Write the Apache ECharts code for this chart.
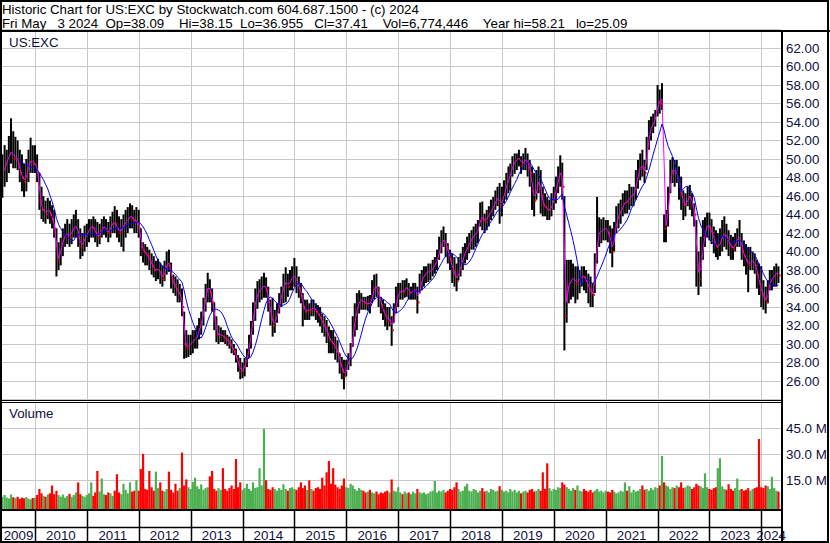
<!DOCTYPE html>
<html><head><meta charset="utf-8">
<script src="https://cdn.jsdelivr.net/npm/echarts/dist/echarts.min.js"></script>
<style>html,body{margin:0;padding:0;background:#fff}#c{width:830px;height:543px}</style>
</head><body><div id="c"></div>
<script>
// Half-monthly bars (1st and 16th of each month), first bar 16 May 2009, last 1 May 2024
const firstBar = [2009, 4, 16];

const high = [
// 2009
50.5,51.5,51.0,52.5,54.4,53.0,52.4,52.0,51.0,50.5,49.5,50.0,51.0,52.3,51.5,
// 2010
51.5,50.5,48.5,47.0,46.0,45.5,45.8,45.5,45.0,44.5,42.5,41.0,41.5,42.5,43.0,43.5,43.0,43.5,44.0,44.5,43.5,42.5,42.0,42.8,
// 2011
43.0,43.5,43.5,43.8,43.5,43.2,43.0,43.5,43.8,43.5,43.2,43.8,44.3,44.9,44.5,43.8,43.5,44.0,44.5,44.8,45.2,45.0,44.5,44.8,
// 2012
44.5,42.5,41.0,40.8,40.5,40.2,39.8,39.5,39.0,39.2,38.8,38.5,39.0,40.0,40.2,38.8,37.5,37.3,37.0,36.5,36.0,33.5,31.5,31.0,
// 2013
31.0,31.5,31.5,32.0,32.8,33.5,35.0,36.5,37.7,37.0,36.0,34.5,33.0,32.0,31.8,31.5,31.5,31.0,30.8,30.5,30.0,29.5,28.8,28.5,
// 2014
28.0,28.5,29.5,31.0,32.5,34.5,36.0,36.8,37.0,37.3,37.7,37.2,36.2,34.8,35.0,33.7,34.4,35.5,36.2,37.6,38.3,37.6,38.0,38.4,
// 2015
39.3,38.4,37.3,36.6,35.5,34.8,34.8,34.4,34.8,34.8,34.4,34.2,34.0,33.3,33.0,32.6,31.9,31.5,31.5,30.8,30.4,29.0,28.6,28.3,
// 2016
28.3,29.0,30.1,33.0,34.4,35.5,35.8,35.5,35.1,35.1,35.2,35.3,36.9,37.5,37.6,36.2,35.1,34.8,34.4,34.0,34.0,33.0,34.4,36.2,
// 2017
36.6,36.6,36.9,36.9,37.1,36.6,36.2,36.6,36.6,36.2,37.6,38.0,38.4,38.4,38.7,38.7,39.1,39.4,40.2,41.6,42.3,42.7,42.0,40.9,
// 2018
40.2,39.8,39.4,38.7,39.4,39.8,40.5,40.9,41.6,42.0,42.3,42.7,43.0,43.4,45.3,45.4,44.1,44.5,44.9,45.6,45.9,46.6,47.0,47.4,
// 2019
47.0,47.7,48.5,49.2,49.5,50.3,50.6,50.6,51.0,50.3,50.6,51.2,50.6,49.9,49.2,48.5,48.8,49.2,48.8,47.0,46.3,45.9,45.6,46.3,
// 2020
47.0,48.1,49.2,50.4,49.6,46.0,39.1,39.1,39.1,38.7,38.4,38.4,38.0,38.4,38.4,38.0,37.6,37.3,36.6,39.8,45.9,43.7,43.5,43.7,
// 2021
43.4,43.4,42.8,42.5,43.2,44.9,45.2,45.6,46.3,46.6,46.6,47.3,47.0,47.0,48.8,49.9,50.6,51.0,49.9,52.4,54.2,54.6,54.9,55.3,
// 2022
58.0,57.5,58.2,44.0,44.5,47.0,49.9,50.2,49.9,49.9,49.2,48.1,46.6,46.3,47.0,47.2,46.3,45.2,43.4,40.0,41.6,43.4,43.7,44.2,
// 2023
44.2,43.5,42.7,42.3,42.0,42.5,43.4,43.8,43.0,42.3,41.8,41.6,42.0,42.5,43.4,42.0,41.2,40.8,40.5,40.5,40.0,39.8,39.1,38.7,
// 2024
38.4,36.9,36.2,36.9,38.0,38.0,38.4,38.7,38.4
];

const low = [
// 2009
45.8,47.0,47.5,48.5,49.5,49.0,49.0,48.8,47.5,46.5,45.9,46.5,47.5,48.5,48.5,
// 2010
48.5,47.5,44.5,43.5,43.2,43.0,43.5,43.0,42.5,41.5,37.3,38.0,38.5,39.5,40.5,40.8,40.5,40.8,41.5,41.5,40.5,39.2,39.5,40.0,
// 2011
40.5,41.0,41.5,41.5,41.0,40.5,40.8,41.5,41.8,41.5,41.0,41.5,42.0,42.0,41.5,41.0,40.5,40.0,41.5,42.0,42.5,42.5,42.0,42.0,
// 2012
41.5,39.5,38.8,38.5,38.5,38.0,37.5,37.2,36.8,37.0,36.5,36.2,36.8,37.5,37.8,36.0,35.5,35.2,34.5,34.5,33.0,28.4,28.5,28.6,
// 2013
28.8,29.0,29.5,29.5,30.5,31.0,32.0,33.5,34.5,34.5,33.5,31.5,30.2,30.0,30.2,30.2,30.0,29.8,29.5,29.0,28.8,28.0,27.0,26.2,
// 2014
26.3,26.5,27.5,28.5,29.5,31.0,32.5,33.8,34.5,34.8,35.0,35.0,33.5,32.0,30.8,31.2,32.3,33.3,34.0,34.4,34.5,35.1,35.8,35.8,
// 2015
36.2,35.5,35.0,34.4,31.9,32.6,32.6,32.6,33.0,33.0,32.6,32.3,31.9,31.2,30.8,30.1,29.0,29.0,29.0,28.3,28.0,26.8,26.2,25.1,
// 2016
26.5,27.2,27.6,29.7,30.8,31.5,33.3,33.7,33.7,33.7,33.6,33.3,34.4,34.8,35.1,34.0,33.3,32.6,31.9,31.5,31.9,29.8,32.3,33.3,
// 2017
34.0,34.8,34.8,35.0,35.1,34.8,34.8,34.8,34.8,33.3,35.5,35.8,36.2,36.6,36.7,36.9,37.3,37.6,38.0,39.1,39.8,40.5,39.4,38.7,
// 2018
38.0,36.6,36.2,35.7,36.9,37.3,38.0,38.7,39.1,39.8,40.2,40.2,40.5,40.9,42.7,42.3,42.0,42.3,42.7,43.4,43.8,44.5,44.9,43.0,
// 2019
43.8,45.2,45.6,46.3,46.6,48.1,48.4,48.8,49.2,48.4,48.8,48.8,48.1,47.0,44.5,43.8,45.6,46.3,44.1,43.8,43.8,43.4,43.4,43.8,
// 2020
44.5,45.2,46.3,47.0,45.6,29.3,32.3,34.4,34.8,35.1,34.4,34.8,35.5,36.2,35.8,35.5,34.4,34.0,34.0,35.5,38.7,40.5,40.9,41.2,
// 2021
41.2,41.0,39.8,38.3,40.0,42.0,42.5,43.0,43.8,44.1,44.1,44.5,44.9,44.9,45.6,46.8,47.7,48.1,47.4,48.8,51.0,52.0,52.8,53.5,
// 2022
54.6,54.9,55.3,41.0,41.0,42.7,46.3,47.4,47.0,47.4,45.6,44.5,43.4,43.8,44.9,44.5,43.8,42.7,36.2,35.3,36.2,39.1,40.5,41.5,
// 2023
41.2,40.8,39.8,39.4,39.1,39.5,40.0,40.5,40.2,39.5,39.1,39.1,40.0,40.5,40.5,39.1,38.4,37.5,35.6,38.0,38.0,37.6,36.0,35.3,
// 2024
34.0,33.7,33.3,34.4,35.8,35.8,36.2,36.2,36.6
];

const close = [
// 2009
48.0,49.5,49.8,50.5,51.0,50.0,50.5,49.5,48.5,48.0,47.5,48.5,49.5,50.0,49.5,
// 2010
49.5,48.5,45.5,44.5,44.5,44.0,44.8,44.0,43.5,42.5,39.0,39.5,40.5,41.5,41.8,42.0,41.5,42.5,42.5,43.0,41.5,40.5,41.0,41.5,
// 2011
42.0,42.5,42.8,42.5,42.0,41.5,42.0,42.5,42.8,42.2,42.0,42.8,43.2,43.0,42.5,42.0,42.5,43.0,43.2,43.5,44.0,43.5,43.2,43.5,
// 2012
42.5,40.5,40.0,39.8,39.5,39.0,38.5,38.0,38.0,38.2,37.5,37.0,38.0,39.0,38.5,37.0,36.5,36.0,35.5,35.5,34.0,30.0,29.5,30.0,
// 2013
30.0,30.5,30.5,31.0,31.8,32.5,34.0,35.5,36.5,35.5,34.5,32.5,31.0,31.0,31.0,30.8,30.5,30.3,30.0,29.5,29.2,28.5,27.8,27.0,
// 2014
27.2,27.8,28.8,30.0,31.5,33.5,35.0,35.5,36.0,36.0,36.5,35.8,34.5,33.0,32.0,32.5,33.5,34.5,35.5,36.5,36.8,36.2,37.0,37.2,
// 2015
37.5,36.5,36.0,35.2,34.0,33.5,33.8,33.5,34.0,33.8,33.5,33.2,32.8,32.2,31.8,31.2,30.5,30.2,30.0,29.5,29.0,27.8,27.2,26.5,
// 2016
27.5,28.3,29.2,31.5,33.0,34.0,34.8,34.8,34.5,34.3,34.5,34.2,35.5,36.5,36.0,35.0,34.2,33.5,33.0,32.5,32.8,31.5,33.0,35.0,
// 2017
35.5,35.8,35.6,36.0,36.2,35.5,35.5,35.8,36.0,34.5,36.5,37.0,37.5,37.8,37.8,38.0,38.2,38.8,39.0,40.5,41.0,41.5,40.5,39.8,
// 2018
39.0,38.0,37.5,36.8,38.0,38.5,39.5,40.0,40.5,41.0,41.5,41.8,42.0,42.3,44.0,43.5,43.2,43.8,44.0,44.5,45.0,45.5,46.0,45.0,
// 2019
45.5,46.5,47.3,48.0,48.5,49.5,49.8,50.0,50.2,49.3,49.8,50.0,49.5,48.5,46.5,45.5,47.0,48.0,46.0,45.0,44.8,44.5,44.5,45.0,
// 2020
46.0,47.0,48.0,49.0,47.0,33.0,36.0,36.5,37.0,37.2,36.5,37.0,37.0,37.5,37.2,36.8,36.0,35.5,35.3,38.5,42.0,42.0,42.3,42.5,
// 2021
42.5,42.0,41.0,40.0,42.0,43.5,44.0,44.5,45.0,45.5,45.3,46.0,46.0,46.2,47.5,48.5,49.5,49.0,48.5,51.0,53.0,53.5,54.0,54.5,
// 2022
56.5,56.0,57.0,42.5,43.0,45.5,48.5,49.0,48.5,48.5,47.0,46.0,45.0,45.0,46.0,46.0,45.0,44.0,38.5,37.0,39.0,41.0,42.5,43.0,
// 2023
42.5,42.0,41.0,40.5,40.5,41.0,41.8,42.0,41.5,40.8,40.5,40.2,41.0,41.5,41.5,40.0,39.5,39.0,38.5,39.0,39.0,38.5,37.5,36.5,
// 2024
35.5,35.0,34.5,35.8,37.0,37.0,37.5,37.8,37.41
];

// volume, millions of shares
const volume = [
// 2009
5.5,6.5,5.0,4.5,6.8,5.2,4.8,5.5,4.2,5.0,4.6,5.3,4.4,4.0,4.8,
// 2010
5.0,6.5,10.0,7.5,6.0,5.5,6.8,7.5,12.0,7.0,9.0,6.5,5.5,6.8,5.0,6.0,7.2,5.5,6.5,8.0,13.8,7.0,6.0,5.5,
// 2011
6.5,7.5,13.8,6.0,8.0,20.4,8.5,16.0,7.0,6.5,8.0,7.5,6.0,9.0,18.5,8.0,7.0,13.0,9.5,7.5,13.8,8.5,9.0,15.0,
// 2012
9.0,21.5,30.2,10.0,9.5,20.4,11.0,9.0,20.0,10.5,13.8,9.0,8.5,10.0,20.0,9.5,8.0,13.0,9.0,10.5,31.0,12.0,15.5,11.0,
// 2013
10.0,14.0,16.5,11.5,10.0,12.7,9.5,10.5,11.0,17.3,20.4,10.0,9.0,10.5,9.5,22.0,10.0,9.0,10.5,12.0,10.0,27.3,11.0,13.8,
// 2014
9.5,10.5,13.0,10.0,9.0,13.8,10.5,11.0,22.0,12.0,44.6,15.0,10.0,9.5,11.0,10.0,9.0,10.5,9.5,12.7,10.0,9.0,10.5,11.0,
// 2015
10.0,9.5,11.0,13.8,10.5,12.0,9.5,15.0,10.0,9.0,10.5,11.0,10.0,16.5,12.0,19.6,26.1,13.0,22.0,12.5,11.0,10.0,12.0,16.0,
// 2016
11.0,10.5,13.0,12.0,10.0,9.0,10.5,9.5,9.0,8.0,8.5,9.5,8.0,7.5,8.5,7.0,8.0,7.5,8.5,9.0,8.0,15.5,9.0,8.5,
// 2017
11.0,8.0,7.0,8.5,7.5,8.0,7.0,8.5,7.5,10.0,8.0,7.5,8.0,7.0,7.5,8.5,9.0,14.6,8.0,9.0,8.5,9.5,8.0,9.0,
// 2018
10.0,9.5,11.0,13.8,10.0,8.5,9.0,11.5,13.0,9.0,8.5,10.0,9.5,8.0,9.0,10.5,8.5,9.0,8.0,10.0,9.5,8.5,9.0,11.6,
// 2019
9.5,8.5,9.0,8.0,10.0,8.5,9.5,8.0,9.0,7.5,8.5,9.0,8.0,9.5,10.0,8.5,9.0,10.0,9.0,19.6,10.0,24.8,10.5,9.0,
// 2020
10.0,9.5,11.0,10.5,13.8,12.5,11.0,10.0,9.0,10.5,9.5,12.0,9.0,8.5,10.0,9.0,8.5,9.5,8.0,9.0,10.0,8.5,9.0,8.0,
// 2021
9.0,8.5,8.0,9.5,8.5,7.5,8.0,9.0,8.5,13.8,9.0,11.6,8.0,9.5,8.5,9.0,10.0,12.0,9.5,10.0,9.0,10.5,9.5,11.0,
// 2022
10.5,12.0,29.0,13.8,12.0,11.5,10.0,11.0,10.5,12.0,11.0,13.8,10.5,11.0,12.0,11.5,10.0,11.0,13.0,12.0,11.5,10.5,19.0,11.0,
// 2023
10.0,9.5,10.5,11.0,22.0,27.7,11.5,10.0,9.5,12.7,10.0,9.0,10.5,16.0,9.5,10.0,9.0,9.5,10.5,9.0,10.0,10.5,11.0,38.8,
// 2024
11.0,10.5,12.0,11.6,10.0,17.0,10.5,9.0,8.5
];

const yearLabels = [2009,2010,2011,2012,2013,2014,2015,2016,2017,2018,2019,2020,2021,2022,2023,2024];
const priceTicks = {min: 24, max: 64, step: 2};
const volumeTicks = {min: 0, max: 60, step: 15};
const maShortLen = 2;   // ~20 trading days
const maLongLen = 9;    // ~100 trading days

const headerLine1 = 'Historic Chart for US:EXC by Stockwatch.com 604.687.1500 - (c) 2024';
const headerFields = [['Fri May', 3], ['3 2024', 2], ['Op=38.09', 4], ['Hi=38.15', 2], ['Lo=36.955', 3],
                      ['Cl=37.41', 4], ['Vol=6,774,446', 4], ['Year hi=58.21', 3], ['lo=25.09', 0]];

// ---------- build ----------
const n = Math.min(high.length, low.length, close.length, volume.length);
const barDates = [];
{
  let y = firstBar[0], m = firstBar[1], d = firstBar[2];
  for (let i = 0; i < n; i++) {
    barDates.push(Date.UTC(y, m, d));
    if (d === 1) d = 16; else { d = 1; m++; if (m === 12) { m = 0; y++; } }
  }
}
function movingAverage(vals, len) {
  const out = [];
  for (let i = len - 1; i < n; i++) {
    let s = 0;
    for (let j = i - len + 1; j <= i; j++) s += vals[j];
    out.push([barDates[i], +(s / len).toFixed(3)]);
  }
  return out;
}
const PX_PER_YEAR = 51.88, YEAR_MS = 365.2425 * 86400000;
const T2010 = Date.UTC(2010, 0, 1);
const xMin = T2010 - 33 / PX_PER_YEAR * YEAR_MS;
const xMax = T2010 + 746 / PX_PER_YEAR * YEAR_MS;

const FONT = '"Liberation Sans", Arial, sans-serif';
const LABEL = '#101040';
const GRID = '#c8c8c8';

const ohlc = barDates.map((t, i) => [t, high[i], low[i], close[i]]);
const downTicks = [];
barDates.forEach((t, i) => { if (i > 0 && close[i] < close[i - 1]) downTicks.push([t, close[i]]); });
const vol = barDates.map((t, i) => [t, volume[i], (i === 0 || close[i] >= close[i - 1]) ? 1 : 0]);
const yearStarts = yearLabels.filter(y => Date.UTC(y, 0, 1) > xMin).map(y => [Date.UTC(y, 0, 1), 0]);
const yearSpans = yearLabels.map(y => [Date.UTC(y, 0, 1), Date.UTC(y + 1, 0, 1), y]);
const headerLine2 = headerFields.map(f => f[0] + '\u00a0'.repeat(f[1])).join('');

function renderYearGrid(params, api) {
  const cs = params.coordSys;
  const x = Math.round(api.coord([api.value(0), 0])[0]) + 0.5;
  return {type: 'line', shape: {x1: x, y1: cs.y, x2: x, y2: cs.y + cs.height}, style: {stroke: GRID, lineWidth: 1}};
}
function renderBar(params, api) {
  const t = api.value(0);
  const h = api.coord([t, api.value(1)]);
  const l = api.coord([t, api.value(2)]);
  return {type: 'rect', shape: {x: h[0] - 1, y: h[1], width: 2, height: Math.max(1, l[1] - h[1])}, style: {fill: '#000'}};
}
function renderTick(params, api) {
  const p = api.coord([api.value(0), api.value(1)]);
  return {type: 'rect', shape: {x: p[0] + 0.4, y: p[1] - 1, width: 1.8, height: 2}, style: {fill: '#ff0000'}};
}
function renderVol(params, api) {
  const t = api.value(0);
  const p = api.coord([t, api.value(1)]);
  const base = api.coord([t, 0])[1] + 3;
  return {type: 'rect', shape: {x: p[0] - 1.1, y: p[1], width: 2.2, height: base - p[1]},
          style: {fill: api.value(2) ? '#4caf50' : '#ff0000'}};
}
function renderDateRow(params, api) {
  const cs = params.coordSys;
  const s = api.value(0), e = api.value(1), yr = api.value(2);
  const xs = api.coord([Math.max(s, xMin), 0])[0];
  const xe = api.coord([Math.min(e, xMax), 0])[0];
  const children = [];
  if (s > xMin) {
    const x = Math.round(api.coord([s, 0])[0]) + 0.5;
    children.push({type: 'line', shape: {x1: x, y1: cs.y, x2: x, y2: cs.y + cs.height}, style: {stroke: '#000', lineWidth: 1.5}});
  }
  children.push({type: 'text', x: (xs + xe) / 2, y: 535.5,
    style: {text: String(yr), align: 'center', verticalAlign: 'middle', fill: LABEL, fontSize: 13.33, fontFamily: FONT}});
  return {type: 'group', children};
}

const xAxisBase = {type: 'time', min: xMin, max: xMax, show: false};
const chart = echarts.init(document.getElementById('c'), null, {renderer: 'svg'});
const ln = (x1, y1, x2, y2, w) => ({type: 'line', z: 100, shape: {x1, y1, x2, y2}, style: {stroke: '#000', lineWidth: w}});
const label = (text, x, y, color, size) => ({type: 'text', x, y, z: 110,
  style: {text, fill: color || LABEL, fontSize: size || 13.33, fontFamily: FONT, verticalAlign: 'middle'}});

chart.setOption({
  animation: false,
  backgroundColor: '#fff',
  textStyle: {fontFamily: FONT},
  grid: [
    {left: 2, right: 49, top: 29.5, height: 370},
    {left: 2, right: 49, top: 402.3, height: 104},
    {left: 2, right: 49, top: 511, height: 30}
  ],
  xAxis: [Object.assign({gridIndex: 0}, xAxisBase), Object.assign({gridIndex: 1}, xAxisBase), Object.assign({gridIndex: 2}, xAxisBase)],
  yAxis: [
    {gridIndex: 0, type: 'value', position: 'right', min: priceTicks.min, max: priceTicks.max, interval: priceTicks.step,
     axisLine: {show: false}, axisTick: {show: false},
     splitLine: {show: true, lineStyle: {color: GRID, width: 1}},
     axisLabel: {margin: 5, color: LABEL, fontSize: 13.33, fontFamily: FONT,
       formatter: v => (v <= priceTicks.min || v >= priceTicks.max) ? '' : v.toFixed(2)}},
    {gridIndex: 1, type: 'value', position: 'right', min: volumeTicks.min, max: volumeTicks.max, interval: volumeTicks.step,
     axisLine: {show: false}, axisTick: {show: false},
     splitLine: {show: true, lineStyle: {color: GRID, width: 1}},
     axisLabel: {margin: 5, color: LABEL, fontSize: 13.33, fontFamily: FONT,
       formatter: v => (v <= volumeTicks.min || v >= volumeTicks.max) ? '' : v.toFixed(1) + ' M'}},
    {gridIndex: 2, type: 'value', min: 0, max: 1, show: false}
  ],
  series: [
    {type: 'custom', name: 'yearGridPrice', xAxisIndex: 0, yAxisIndex: 0, data: yearStarts, renderItem: renderYearGrid, z: 1, silent: true},
    {type: 'custom', name: 'US:EXC', xAxisIndex: 0, yAxisIndex: 0, data: ohlc, encode: {x: 0, y: [1, 2]}, renderItem: renderBar, z: 3},
    {type: 'custom', name: 'closeTicks', xAxisIndex: 0, yAxisIndex: 0, data: downTicks, encode: {x: 0, y: 1}, renderItem: renderTick, z: 4},
    {type: 'line', name: 'MA short', xAxisIndex: 0, yAxisIndex: 0, data: movingAverage(close, maShortLen), showSymbol: false, symbol: 'none',
     lineStyle: {color: '#ff00ff', width: 1}, z: 5},
    {type: 'line', name: 'MA long', xAxisIndex: 0, yAxisIndex: 0, data: movingAverage(close, maLongLen), showSymbol: false, symbol: 'none',
     lineStyle: {color: '#0000ff', width: 1}, z: 6},
    {type: 'custom', name: 'yearGridVol', xAxisIndex: 1, yAxisIndex: 1, data: yearStarts, renderItem: renderYearGrid, z: 1, silent: true},
    {type: 'custom', name: 'Volume', xAxisIndex: 1, yAxisIndex: 1, data: vol, encode: {x: 0, y: 1}, renderItem: renderVol, z: 3},
    {type: 'custom', name: 'dates', xAxisIndex: 2, yAxisIndex: 2, data: yearSpans, renderItem: renderDateRow, z: 3}
  ],
  graphic: [
    {type: 'rect', z: 100, shape: {x: 1, y: 1, width: 827, height: 541}, style: {fill: 'transparent', stroke: '#000', lineWidth: 2}},
    ln(0, 31, 830, 31, 2),
    ln(782, 31, 782, 542, 2),
    ln(0, 400.5, 782, 400.5, 1),
    ln(0, 402.5, 782, 402.5, 1),
    ln(0, 510, 782, 510, 2),
    ln(0, 527.5, 782, 527.5, 1.5),
    label(headerLine1, 2, 9.2, '#000', 13.3),
    label(headerLine2, 2, 23.8, '#000', 13.3),
    label('US:EXC', 9, 42.3),
    label('Volume', 9, 413.6)
  ]
});
</script>
</body></html>
